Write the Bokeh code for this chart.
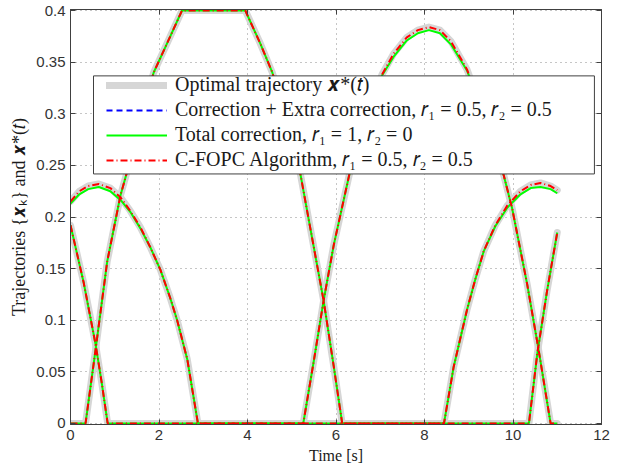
import numpy as np
from bokeh.plotting import figure
from bokeh.models import Range1d, FixedTicker, Legend, LegendItem, BoxAnnotation, LinearAxis
from bokeh.embed import file_html
from bokeh.resources import INLINE

# ---------------- data ----------------
# trajectory 1
t1 = [0.0, 0.2, 0.4, 0.64, 0.9, 1.13, 1.35, 1.58, 1.8, 2.03, 2.25, 2.41, 2.64, 2.88,
      8.44, 8.66, 8.96, 9.15, 9.34, 9.6, 9.87, 10.17, 10.4, 10.62, 10.85, 11.0]
opt1 = [0.215, 0.225, 0.230, 0.232, 0.228, 0.219, 0.206, 0.190, 0.171, 0.149, 0.122, 0.100, 0.062, 0.0,
        0.0, 0.055, 0.110, 0.140, 0.167, 0.192, 0.211, 0.225, 0.231, 0.233, 0.230, 0.226]
tot1 = [0.213, 0.222, 0.227, 0.229, 0.225, 0.2165, 0.205, 0.189, 0.171, 0.149, 0.122, 0.100, 0.062, 0.0,
        0.0, 0.055, 0.110, 0.140, 0.167, 0.191, 0.209, 0.222, 0.228, 0.229, 0.227, 0.223]

# trajectory 2
t2 = [0.0, 0.3, 0.565, 0.7, 0.84, 5.26, 5.5, 5.72, 5.95, 6.3, 6.65, 7.04, 7.3, 7.6, 7.85,
      8.1, 8.35, 8.6, 8.96, 9.3, 9.55, 9.79, 9.98, 10.32, 10.58, 10.85, 11.0]
opt2 = [0.192, 0.136, 0.077, 0.041, 0.0, 0.0, 0.061, 0.119, 0.173, 0.241, 0.292, 0.338, 0.358, 0.374, 0.381,
        0.384, 0.381, 0.370, 0.343, 0.303, 0.272, 0.2405, 0.2085, 0.135, 0.071, 0.0, 0.0]
tot2 = [0.192, 0.136, 0.077, 0.041, 0.0, 0.0, 0.061, 0.119, 0.173, 0.241, 0.292, 0.337, 0.355, 0.371, 0.378,
        0.381, 0.378, 0.367, 0.342, 0.303, 0.272, 0.2405, 0.2085, 0.135, 0.071, 0.0, 0.0]

# trajectory 3
t3 = [0.0, 0.34, 0.565, 0.83, 1.13, 1.28, 1.58, 1.88, 2.18, 2.52, 3.95, 4.29, 4.56, 4.88,
      5.2, 5.42, 5.72, 5.95, 6.14, 10.36, 10.55, 10.77, 11.0]
opt3 = [0.0, 0.0, 0.071, 0.157, 0.221, 0.244, 0.295, 0.340, 0.368, 0.400, 0.400, 0.368, 0.340, 0.295,
        0.2405, 0.189, 0.119, 0.055, 0.0, 0.0, 0.068, 0.1285, 0.185]
tot3 = [0.0, 0.0, 0.071, 0.157, 0.221, 0.244, 0.295, 0.340, 0.368, 0.400, 0.400, 0.368, 0.340, 0.295,
        0.2405, 0.189, 0.119, 0.055, 0.0, 0.0, 0.068, 0.1285, 0.185]

# C-FOPC and correction+extra (both r1=0.5, r2=0.5) coincide with the optimum
cfopc1, cfopc2, cfopc3 = opt1, opt2, opt3
extra1, extra2, extra3 = opt1, opt2, opt3

x_ticks = [0, 2, 4, 6, 8, 10, 12]
y_ticks = [0, 0.05, 0.1, 0.15, 0.2, 0.25, 0.3, 0.35, 0.4]
y_tick_labels = ["0", "0.05", "0.1", "0.15", "0.2", "0.25", "0.3", "0.35", "0.4"]

labels = [
    "Optimal trajectory 𝒙*(𝑡)",
    "Correction + Extra correction, 𝑟₁ = 0.5, 𝑟₂ = 0.5",
    "Total correction, 𝑟₁ = 1, 𝑟₂ = 0",
    "C-FOPC Algorithm, 𝑟₁ = 0.5, 𝑟₂ = 0.5",
]

# ---------------- figure ----------------
FH = 415
Y0, Y1 = -0.001, 0.401   # tiny pad so lines lying on the limits stay visible
p = figure(frame_width=531, frame_height=FH,
           min_border_left=70, min_border_right=19, min_border_top=9, min_border_bottom=40,
           x_range=Range1d(0, 12), y_range=Range1d(Y0, Y1),
           output_backend="svg", toolbar_location=None)
p.background_fill_color = "white"
p.border_fill_color = "white"
p.outline_line_color = "#404040"
p.outline_line_width = 1

xs = [t1, t2, t3]
r_extra = p.multi_line(xs=xs, ys=[extra1, extra2, extra3], line_color="#0000ff",
                       line_width=2, line_dash="6 4")
r_opt = p.multi_line(xs=xs, ys=[opt1, opt2, opt3], line_color="#d6d6d6", line_width=7,
                     line_join="round", line_cap="round")
r_tot = p.multi_line(xs=xs, ys=[tot1, tot2, tot3], line_color="#00ff00", line_width=2)
r_cf = p.multi_line(xs=xs, ys=[cfopc1, cfopc2, cfopc3], line_color="#ff0000",
                    line_width=2, line_dash="7 3 1 3")

bottom_ax = p.below[0]
left_ax = p.left[0]
top_ax = LinearAxis(ticker=FixedTicker(ticks=x_ticks),
                    major_label_overrides={v: "" for v in x_ticks})
right_ax = LinearAxis(ticker=FixedTicker(ticks=y_ticks),
                      major_label_overrides={v: "" for v in y_ticks})
p.add_layout(top_ax, "above")
p.add_layout(right_ax, "right")

# axes styling
for ax in (bottom_ax, left_ax, top_ax, right_ax):
    ax.axis_line_color = "#404040"
    ax.major_tick_line_color = "#404040"
    ax.major_tick_in = 5
    ax.major_tick_out = 0
    ax.minor_tick_line_color = None
    ax.major_label_text_font = "Liberation Sans"
    ax.major_label_text_font_size = "15px"
    ax.major_label_text_color = "#333333"
    ax.major_label_standoff = 5
    ax.axis_label_text_font = "Liberation Serif"
    ax.axis_label_text_font_style = "normal"
    ax.axis_label_text_color = "#1a1a1a"
    ax.axis_label_standoff = 4
for ax in (top_ax, right_ax):
    ax.major_label_standoff = 0
    ax.major_label_text_font_size = "1px"

bottom_ax.ticker = FixedTicker(ticks=x_ticks)
left_ax.ticker = FixedTicker(ticks=y_ticks)
left_ax.major_label_overrides = {v: s for v, s in zip(y_ticks, y_tick_labels)}
bottom_ax.axis_label = "Time [s]"
bottom_ax.axis_label_text_font_size = "16px"
left_ax.axis_label = "Trajectories {𝒙ₖ} and 𝒙*(𝑡)"
left_ax.axis_label_text_font_size = "18px"

p.xgrid.ticker = FixedTicker(ticks=x_ticks)
p.ygrid.ticker = FixedTicker(ticks=y_ticks)
for g in (p.xgrid[0], p.ygrid[0]):
    g.grid_line_color = "#8c8c8c"
    g.grid_line_dash = "1 4"
    g.grid_line_width = 1

# legend box (in data coordinates)
box_l, box_r, box_b, box_t = 0.52, 11.84, 0.2417, 0.3367
p.add_layout(BoxAnnotation(left=box_l, right=box_r, bottom=box_b, top=box_t,
                           fill_color="white", fill_alpha=1.0,
                           line_color="#404040", line_width=1, line_alpha=1.0))

legend = Legend(items=[LegendItem(label=labels[0], renderers=[r_opt]),
                       LegendItem(label=labels[1], renderers=[r_extra]),
                       LegendItem(label=labels[2], renderers=[r_tot]),
                       LegendItem(label=labels[3], renderers=[r_cf])],
                location=(34, int(round(FH * (box_b - Y0) / (Y1 - Y0)))),
                padding=2, spacing=2, glyph_width=61, glyph_height=22, label_height=22,
                label_standoff=8, margin=0,
                label_text_font="Liberation Serif", label_text_font_size="20px",
                label_text_color="#1a1a1a",
                background_fill_alpha=0, border_line_alpha=0)
p.add_layout(legend)

open("out.html", "w").write(file_html(p, INLINE))
